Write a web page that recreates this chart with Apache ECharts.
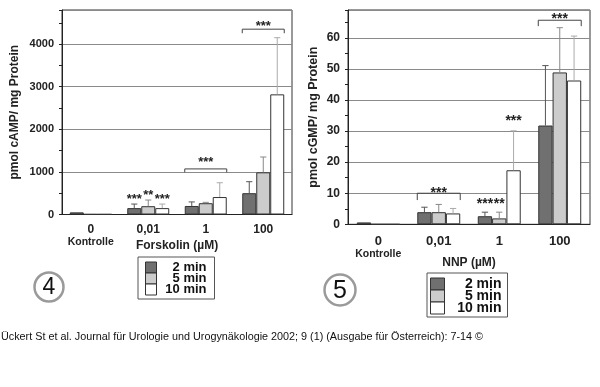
<!DOCTYPE html>
<html><head><meta charset="utf-8">
<script src="https://cdn.jsdelivr.net/npm/echarts@6/dist/echarts.min.js"></script>
<style>html,body{margin:0;padding:0;background:#fff}#c{width:600px;height:387px}</style>
</head><body><div id="c"></div>
<script>
// ---------- data ----------
const categories = ['0', '0,01', '1', '100'];
const seriesNames = ['2 min', '5 min', '10 min'];

// Fig 4: cAMP (pmol / mg Protein), Forskolin
const camp2 = [50, 150, 200, 500];
const camp5 = [8, 195, 265, 990];
const camp10 = [8, 150, 410, 2820];
const campErr2 = [null, 245, 295, 770];
const campErr5 = [null, 340, 285, 1350];
const campErr10 = [null, 245, 745, 4150];
// [category index, bar index, y, text]
const campStars = [[1, 0, 440, '***'], [1, 1, 520, '**'], [1, 2, 440, '***']];
// [category index, bracket top, leg bottom, text, text y]
const campBrackets = [[2, 1070, 990, '***', 1310], [3, 4350, 4255, '***', 4490]];

// Fig 5: cGMP (pmol / mg Protein), NNP
const cgmp2 = [0.6, 3.9, 2.6, 31.8];
const cgmp5 = [0, 3.9, 1.9, 48.9];
const cgmp10 = [0, 3.5, 17.4, 46.3];
const cgmpErr2 = [null, 5.5, 3.9, 51.1];
const cgmpErr5 = [null, 6.4, 3.9, 63.3];
const cgmpErr10 = [null, 5.1, 30.1, 60.6];
const cgmpStars = [[2, 0, 7.5, '***'], [2, 1, 7.5, '**'], [2, 2, 34.2, '***']];
const cgmpBrackets = [[1, 10, 7.8, '***', 11.3], [3, 65.7, 63.8, '***', 67.3]];

const footerText = 'Ückert St et al. Journal für Urologie und Urogynäkologie 2002; 9 (1) (Ausgabe für Österreich): 7-14 ©';

// ---------- styles ----------
const FONT = '"Liberation Sans", Arial, sans-serif';
const barColors = ['#707070', '#cccccc', '#ffffff'];
const errColors = ['#555555', '#888888', '#aaaaaa'];
const GAP = [0.27, 0.29];

function errData(vals, errs) {
  const out = [];
  vals.forEach((vs, s) => vs.forEach((v, c) => {
    if (errs[s][c] != null) out.push([c, s, v, errs[s][c]]);
  }));
  return out;
}

function errRender(gap) {
  return function (params, api) {
    const c = api.value(0), s = api.value(1);
    const band = api.size([1, 0])[0];
    const bw = band * (1 - gap) / 3;
    const x = api.coord([c, 0])[0] + (s - 1) * bw;
    const y0 = api.coord([c, api.value(2)])[1];
    const y1 = api.coord([c, api.value(3)])[1];
    const cap = bw * 0.22;
    const st = { stroke: errColors[s], lineWidth: 1 };
    return { type: 'group', children: [
      { type: 'line', shape: { x1: x, y1: y0, x2: x, y2: y1 }, style: st },
      { type: 'line', shape: { x1: x - cap, y1: y1, x2: x + cap, y2: y1 }, style: st }
    ]};
  };
}

function starRender(gap, fs) {
  return function (params, api) {
    const c = api.value(0), s = api.value(1);
    const band = api.size([1, 0])[0];
    const bw = band * (1 - gap) / 3;
    const p = api.coord([c, api.value(2)]);
    return { type: 'text', x: p[0] + (s - 1) * bw, y: p[1] + fs * 0.25,
      style: { text: api.value(3), fill: '#222', font: 'bold ' + fs + 'px ' + FONT,
        textAlign: 'center', textVerticalAlign: 'middle' } };
  };
}

function bracketRender(gap, fs) {
  return function (params, api) {
    const c = api.value(0);
    const band = api.size([1, 0])[0];
    const half = band * (1 - gap) / 2;
    const cx = api.coord([c, 0])[0];
    const yt = api.coord([c, api.value(1)])[1];
    const yl = api.coord([c, api.value(2)])[1];
    const ty = api.coord([c, api.value(4)])[1];
    return { type: 'group', children: [
      { type: 'polyline', shape: { points: [[cx - half, yl], [cx - half, yt], [cx + half, yt], [cx + half, yl]] },
        style: { stroke: '#444', lineWidth: 1, fill: null } },
      { type: 'text', x: cx, y: ty + fs * 0.25,
        style: { text: api.value(3), fill: '#222', font: 'bold ' + fs + 'px ' + FONT,
          textAlign: 'center', textVerticalAlign: 'middle' } }
    ]};
  };
}

function xAxis(gridIndex, name, fs, margin, nameGap) {
  return {
    type: 'category', gridIndex, data: categories, name, nameLocation: 'middle', nameGap, nameMoveOverlap: false,
    nameTextStyle: { fontFamily: FONT, fontWeight: 'bold', fontSize: 12, color: '#222' },
    axisLine: { lineStyle: { color: '#222' } }, axisTick: { show: false },
    axisLabel: { interval: 0, margin, color: '#222', fontFamily: FONT, fontWeight: 'bold', fontSize: fs, lineHeight: fs,
      formatter: v => v === '0' ? '0\n{k|Kontrolle}' : v,
      rich: { k: { fontFamily: FONT, fontWeight: 'bold', fontSize: 10.5, color: '#222', lineHeight: 12.5 } } }
  };
}

function yAxis(gridIndex, name, max, interval, fs, nameFs, nameGap) {
  return {
    type: 'value', gridIndex, min: 0, max, interval, name, nameLocation: 'middle', nameGap, nameMoveOverlap: false,
    nameTextStyle: { fontFamily: FONT, fontWeight: 'bold', fontSize: nameFs, color: '#222' },
    axisLine: { show: true, lineStyle: { color: '#222' } },
    axisTick: { show: true, length: 3, lineStyle: { color: '#222' } },
    minorTick: { show: true, splitNumber: 2, length: 3, lineStyle: { color: '#222' } },
    axisLabel: { showMaxLabel: false, margin: 8, color: '#222', fontFamily: FONT, fontWeight: 'bold', fontSize: fs,
      formatter: v => String(v) },
    splitLine: { lineStyle: { color: '#8a8a8a', width: 1 } }
  };
}

function bars(vals, axisIdx, gap) {
  return vals.map((d, s) => ({
    type: 'bar', name: seriesNames[s], xAxisIndex: axisIdx, yAxisIndex: axisIdx, data: d,
    barGap: '0%', barCategoryGap: (gap * 100) + '%', z: 2,
    itemStyle: { color: barColors[s], borderColor: '#333', borderWidth: 1 }
  }));
}

function legend(left, top, iw, ih, fs, tw, padding, gap) {
  return {
    left, top, orient: 'vertical', selectedMode: false, data: seriesNames, icon: 'rect',
    itemWidth: iw, itemHeight: ih, itemGap: gap, padding, itemStyle: { borderColor: '#333', borderWidth: 1 },
    borderColor: '#555', borderWidth: 1, backgroundColor: '#fff',
    formatter: '{a|{name}}',
    textStyle: { fontSize: fs, lineHeight: ih, fontWeight: 'bold', fontFamily: FONT,
      rich: { a: { width: tw, align: 'right', fontFamily: FONT, fontWeight: 'bold', fontSize: fs, lineHeight: ih, height: ih, color: '#111' } } }
  };
}

const chart = echarts.init(document.getElementById('c'), null, { renderer: 'canvas' });
chart.setOption({
  animation: false,
  backgroundColor: '#fff',
  grid: [
    { left: 62, top: 10, width: 230, height: 204.5, show: true, borderColor: '#333', borderWidth: 1, backgroundColor: '#fff' },
    { left: 348, top: 10, width: 242, height: 214.3, show: true, borderColor: '#333', borderWidth: 1, backgroundColor: '#fff' }
  ],
  xAxis: [xAxis(0, 'Forskolin (µM)', 12, 9, 25), xAxis(1, 'NNP (µM)', 13, 11, 32)],
  yAxis: [yAxis(0, 'pmol cAMP/ mg Protein', 4800, 1000, 11, 12, 41),
          yAxis(1, 'pmol cGMP/ mg Protein', 69, 10, 12, 12.5, 28)],
  legend: [legend(138, 257, 11, 11, 13, 45, [4, 8, 3, 7], -2),
           legend(427, 273, 14, 12, 14, 52, [4, 6, 2, 3], -2)],
  series: [
    ...bars([camp2, camp5, camp10], 0, GAP[0]),
    ...bars([cgmp2, cgmp5, cgmp10], 1, GAP[1]),
    { type: 'custom', xAxisIndex: 0, yAxisIndex: 0, z: 3, renderItem: errRender(GAP[0]),
      data: errData([camp2, camp5, camp10], [campErr2, campErr5, campErr10]), encode: { x: 0, y: 3 } },
    { type: 'custom', xAxisIndex: 1, yAxisIndex: 1, z: 3, renderItem: errRender(GAP[1]),
      data: errData([cgmp2, cgmp5, cgmp10], [cgmpErr2, cgmpErr5, cgmpErr10]), encode: { x: 0, y: 3 } },
    { type: 'custom', xAxisIndex: 0, yAxisIndex: 0, z: 4, renderItem: starRender(GAP[0], 13),
      data: campStars, encode: { x: 0, y: 2 } },
    { type: 'custom', xAxisIndex: 1, yAxisIndex: 1, z: 4, renderItem: starRender(GAP[1], 14),
      data: cgmpStars, encode: { x: 0, y: 2 } },
    { type: 'custom', xAxisIndex: 0, yAxisIndex: 0, z: 4, renderItem: bracketRender(GAP[0], 13),
      data: campBrackets, encode: { x: 0, y: 1 } },
    { type: 'custom', xAxisIndex: 1, yAxisIndex: 1, z: 4, renderItem: bracketRender(GAP[1], 14),
      data: cgmpBrackets, encode: { x: 0, y: 1 } }
  ],
  graphic: [
    { type: 'circle', shape: { cx: 49, cy: 287, r: 14.5 }, style: { stroke: '#9a9a9a', lineWidth: 2.5, fill: '#fff' } },
    { type: 'text', x: 49, y: 288, style: { text: '4', font: '23px ' + FONT, fill: '#111', textAlign: 'center', textVerticalAlign: 'middle' } },
    { type: 'circle', shape: { cx: 340, cy: 290, r: 15.5 }, style: { stroke: '#9a9a9a', lineWidth: 2.5, fill: '#fff' } },
    { type: 'text', x: 340, y: 291, style: { text: '5', font: '25px ' + FONT, fill: '#111', textAlign: 'center', textVerticalAlign: 'middle' } },
    { type: 'text', x: 1, y: 337, style: { text: footerText, font: '10.8px ' + FONT, fill: '#111', textVerticalAlign: 'middle' } }
  ]
});
</script>
</body></html>
